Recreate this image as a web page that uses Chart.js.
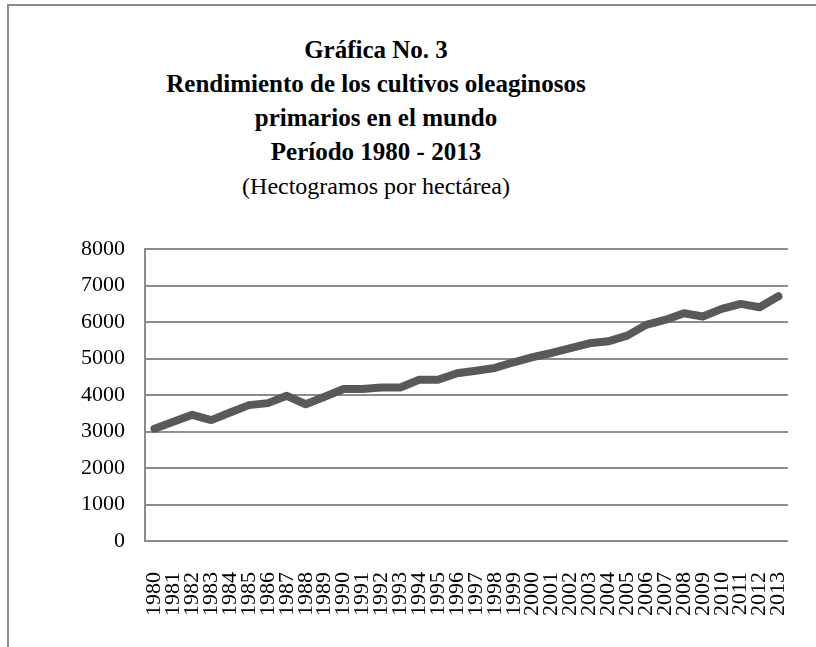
<!DOCTYPE html>
<html>
<head>
<meta charset="utf-8">
<script src="https://cdn.jsdelivr.net/npm/chart.js@4"></script>
<style>
    body { margin: 0; background: #fff; width: 816px; height: 647px; overflow: hidden; position: relative; }
    #frame { position: absolute; left: 7px; top: 4px; width: 809px; height: 643px; border-top: 2px solid #8c8c8c; border-left: 2px solid #8c8c8c; box-sizing: border-box; }
    #title { position: absolute; left: 0; top: 33px; width: 752px; text-align: center; font-family: "Liberation Serif", serif; color: #000; }
    #title .b { font-weight: bold; font-size: 25px; line-height: 34px; }
    #title .s { font-size: 24px; line-height: 34px; }
    #myChart { position: absolute; left: 9px; top: 216px; }
</style>
</head>
<body>
<div id="frame"></div>
<div id="title">
    <div class="b">Gráfica No. 3</div>
    <div class="b">Rendimiento de los cultivos oleaginosos</div>
    <div class="b">primarios en el mundo</div>
    <div class="b">Período 1980 - 2013</div>
    <div class="s">(Hectogramos por hectárea)</div>
</div>
<!-- canvas runs a little past the right edge so the plot can reach it -->
<canvas id="myChart" width="819" height="431"></canvas>
<script>
// Rendimiento mundial, hectogramos por hectárea
const years = ['1980', '1981', '1982', '1983', '1984', '1985', '1986', '1987', '1988', '1989',
    '1990', '1991', '1992', '1993', '1994', '1995', '1996', '1997', '1998', '1999',
    '2000', '2001', '2002', '2003', '2004', '2005', '2006', '2007', '2008', '2009',
    '2010', '2011', '2012', '2013'];
const yields = [3080, 3270, 3460, 3315, 3525, 3725, 3780, 3980, 3750, 3955,
    4165, 4165, 4210, 4210, 4420, 4420, 4600, 4670, 4745, 4900,
    5040, 5155, 5285, 5420, 5475, 5630, 5925, 6060, 6245, 6155,
    6365, 6500, 6410, 6710];
const yMin = 0;
const yMax = 8000;
const yStep = 1000;

const gridGray = '#8c8c8c';

const ctx = document.getElementById('myChart');

new Chart(ctx, {
    type: 'line',
    data: {
        labels: years,
        datasets: [{
            label: 'Rendimiento',
            data: yields,
            borderColor: '#595959',
            borderWidth: 8,
            borderCapStyle: 'round',
            borderJoinStyle: 'round',
            pointRadius: 0,
            tension: 0
        }]
    },
    options: {
        responsive: false,
        animation: false,
        layout: {
            padding: { left: 52, right: 9, top: 0, bottom: 8 }
        },
        plugins: {
            legend: { display: false },
            tooltip: { enabled: false }
        },
        scales: {
            x: {
                offset: true,
                grid: { display: false },
                border: { display: false },
                ticks: {
                    color: '#000',
                    autoSkip: false,
                    minRotation: 90,
                    maxRotation: 90,
                    padding: 23,
                    font: { family: 'Liberation Serif', size: 22 }
                }
            },
            y: {
                min: yMin,
                max: yMax,
                grid: {
                    color: gridGray,
                    lineWidth: 2,
                    drawTicks: false
                },
                border: { display: true, color: gridGray, width: 2 },
                ticks: {
                    stepSize: yStep,
                    color: '#000',
                    padding: 20,
                    font: { family: 'Liberation Serif', size: 22 },
                    // plain numbers, no thousands separator
                    callback: (value) => String(value)
                }
            }
        }
    }
});
</script>
</body>
</html>
